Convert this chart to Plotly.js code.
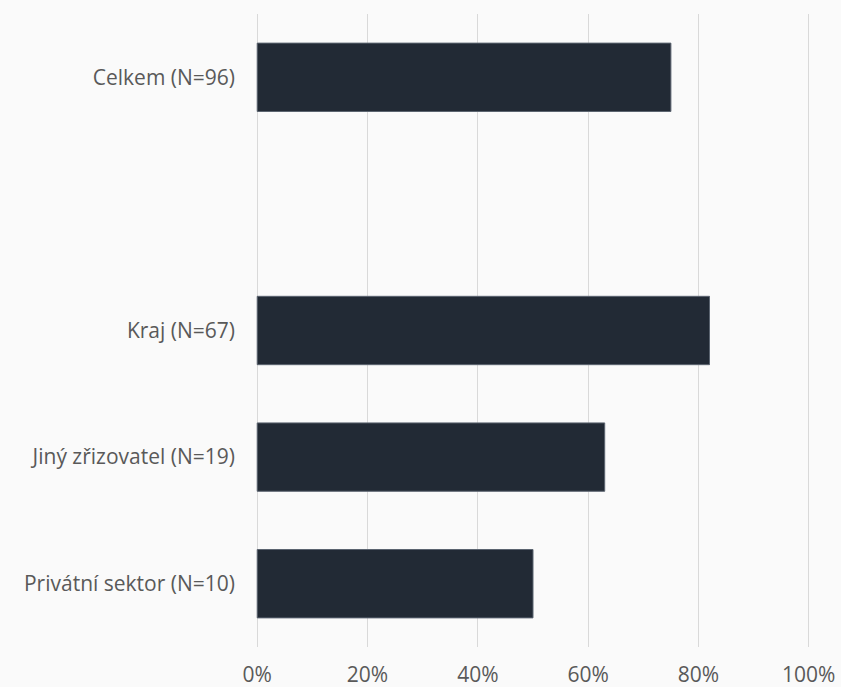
<!DOCTYPE html>
<html>
<head>
<meta charset="utf-8">
<script src="https://cdn.plot.ly/plotly-3.0.1.min.js"></script>
<style>
html,body{margin:0;padding:0;background:#fafafa;}
#chart{width:841px;height:687px;}
</style>
</head>
<body>
<div id="chart"></div>
<script>
const categories = ['Celkem (N=96)', ' ', 'Kraj (N=67)', 'Jiný zřizovatel (N=19)', 'Privátní sektor (N=10)'];
const values = [0.75, null, 0.82, 0.63, 0.50];
const tickValues = [0, 0.2, 0.4, 0.6, 0.8, 1.0];
const tickLabels = ['0%', '20%', '40%', '60%', '80%', '100%'];

const fontFam = '"Open Sans", sans-serif';

Plotly.newPlot('chart', [{
  type: 'bar',
  orientation: 'h',
  y: categories,
  x: values,
  width: 0.54,
  marker: {color: '#222a35', line: {color: '#5b6470', width: 1}},
  hoverinfo: 'skip'
}], {
  width: 841, height: 687,
  paper_bgcolor: '#fafafa',
  plot_bgcolor: '#fafafa',
  margin: {l: 255, r: 30, t: 14, b: 40},
  showlegend: false,
  xaxis: {
    range: [-0.004, 1.004],
    tickvals: tickValues,
    ticktext: tickLabels,
    showgrid: true,
    gridcolor: '#d9d9d9',
    gridwidth: 1,
    zeroline: false,
    showline: false,
    ticks: '',
    ticklabelstandoff: 13,
    tickfont: {family: fontFam, size: 21, color: '#595959'}
  },
  yaxis: {
    type: 'category',
    categoryorder: 'array',
    categoryarray: categories,
    autorange: 'reversed',
    showgrid: false,
    zeroline: false,
    showline: false,
    ticks: '',
    ticklabelstandoff: 19,
    tickfont: {family: fontFam, size: 21, color: '#595959'}
  }
}, {displayModeBar: false, staticPlot: true});
</script>
</body>
</html>
